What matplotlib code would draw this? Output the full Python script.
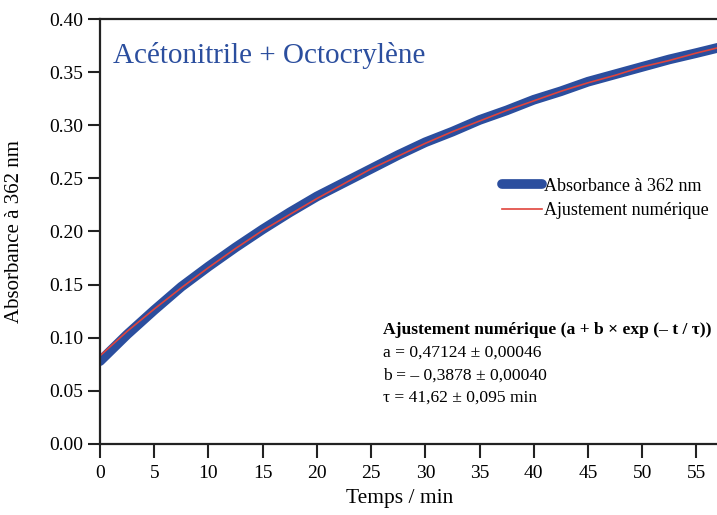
import numpy as np
import matplotlib.pyplot as plt

# Absorbance data (t in min)
t_data = [0, 1, 2.5, 5, 7.5, 10, 12.5, 15, 17.5, 20, 22.5, 25, 27.5, 30, 32.5,
          35, 37.5, 40, 42.5, 45, 47.5, 50, 52.5, 55, 57]
abs_data = [0.078, 0.088, 0.103, 0.126, 0.148, 0.167, 0.185, 0.202, 0.218, 0.233,
            0.246, 0.259, 0.272, 0.284, 0.294, 0.305, 0.314, 0.324, 0.332, 0.341,
            0.348, 0.355, 0.362, 0.368, 0.373]

# Fit curve
t_fit = [0, 2.5, 5, 7.5, 10, 12.5, 15, 17.5, 20, 22.5, 25, 27.5, 30, 32.5,
         35, 37.5, 40, 42.5, 45, 47.5, 50, 52.5, 55, 57]
abs_fit = [0.083, 0.106, 0.127, 0.147, 0.166, 0.184, 0.201, 0.216, 0.231, 0.245,
           0.259, 0.271, 0.283, 0.294, 0.304, 0.314, 0.323, 0.332, 0.340, 0.347,
           0.355, 0.361, 0.368, 0.373]

x_ticks = [0, 5, 10, 15, 20, 25, 30, 35, 40, 45, 50, 55]
y_ticks = [0.00, 0.05, 0.10, 0.15, 0.20, 0.25, 0.30, 0.35, 0.40]

blue = '#2b4e9e'
red = '#e0443c'

plt.rcParams['font.family'] = ['Liberation Serif', 'DejaVu Serif']

fig = plt.figure(figsize=(7.17, 5.15), dpi=100)
ax = fig.add_axes([0.1395, 0.138, 0.8605, 0.825])

ax.plot(t_data, abs_data, color=blue, lw=7, solid_capstyle='round',
        label='Absorbance à 362 nm')
ax.plot(t_fit, abs_fit, color=red, lw=1.2, label='Ajustement numérique')

ax.set_xlim(0, 56.9)
ax.set_ylim(0, 0.40)
ax.set_xticks(x_ticks)
ax.set_yticks(y_ticks)
ax.set_yticklabels(['%.2f' % v for v in y_ticks])
ax.tick_params(axis='both', labelsize=14, width=1.5, color='#222222')
ax.tick_params(axis='x', length=10, pad=5)
ax.tick_params(axis='y', length=9, pad=3)

for s in ['left', 'bottom', 'top']:
    ax.spines[s].set_linewidth(1.6)
    ax.spines[s].set_color('#222222')
ax.spines['right'].set_visible(False)

ax.set_xlabel('Temps / min', fontsize=15.5)
ax.xaxis.set_label_coords(0.485, -0.105)
ax.set_ylabel('Absorbance à 362 nm', fontsize=15)
ax.yaxis.set_label_coords(-0.123, 0.5)

ax.text(0.021, 0.915, 'Acétonitrile + Octocrylène', transform=ax.transAxes,
        fontsize=21, color=blue, va='center')

leg = ax.legend(loc='upper left', bbox_to_anchor=(0.625, 0.665), frameon=False,
                fontsize=13, handlelength=2.2, handletextpad=0.15,
                labelspacing=0.4)

ax.text(0.458, 0.268, 'Ajustement numérique (a + b × exp (– t / τ))',
        transform=ax.transAxes, fontsize=12.6, fontweight='bold', va='center')
ax.text(0.458, 0.214, 'a = 0,47124 ± 0,00046', transform=ax.transAxes,
        fontsize=12.6, va='center')
ax.text(0.458, 0.161, 'b = – 0,3878 ± 0,00040', transform=ax.transAxes,
        fontsize=12.6, va='center')
ax.text(0.458, 0.110, 'τ = 41,62 ± 0,095 min', transform=ax.transAxes,
        fontsize=12.6, va='center')

fig.savefig('out.png', dpi=100)
